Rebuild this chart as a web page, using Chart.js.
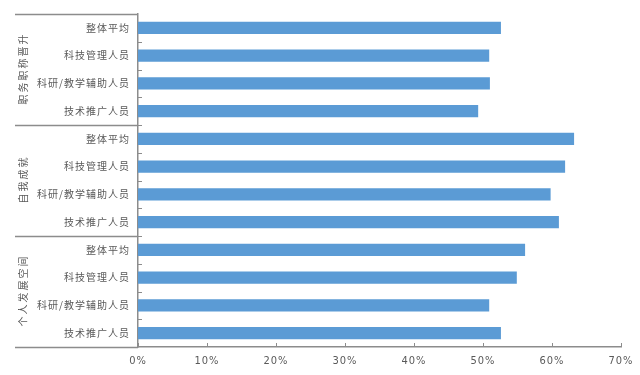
<!DOCTYPE html>
<html><head><meta charset="utf-8">
<script src="https://cdn.jsdelivr.net/npm/chart.js@4/dist/chart.umd.min.js"></script>
<style>html,body{margin:0;padding:0;background:#fff}#wrap{width:640px;height:375px}</style>
</head><body><div id="wrap"><canvas id="c" width="640" height="375"></canvas></div>
<script>
const groups = ['职务职称晋升', '自我成就', '个人发展空间'];
const roles = ['整体平均', '科技管理人员', '科研/教学辅助人员', '技术推广人员'];
const promotion = [52.6, 50.9, 51.0, 49.3];
const achievement = [63.2, 61.9, 59.8, 61.0];
const development = [56.1, 54.9, 50.9, 52.6];
const xTickValues = [0, 10, 20, 30, 40, 50, 60, 70];

const categories = [].concat(roles, roles, roles);
const values = [].concat(promotion, achievement, development);

const LINE = '#8c8c8c';
const TEXT = '#595959';
const FONT = "'Noto Sans CJK SC', 'Noto Sans', sans-serif";

const decor = {
  id: 'decor',
  beforeDraw(chart) { chart.ctx.letterSpacing = '1px'; },
  afterDraw(chart) {
    const ctx = chart.ctx;
    const y = chart.scales.y, x = chart.scales.x;
    const ca = chart.chartArea;
    const n = categories.length;
    const boundary = i => i === 0 ? ca.top : (i === n ? ca.bottom : (y.getPixelForValue(i - 1) + y.getPixelForValue(i)) / 2);
    ctx.save();
    ctx.strokeStyle = LINE;
    ctx.lineWidth = 1;
    for (let i = 1; i < n; i++) {
      const py = Math.round(boundary(i)) + 0.5;
      ctx.beginPath(); ctx.moveTo(ca.left, py); ctx.lineTo(ca.left + 4, py); ctx.stroke();
    }
    xTickValues.forEach(v => {
      const px = Math.round(x.getPixelForValue(v)) + 0.5;
      ctx.beginPath(); ctx.moveTo(px, ca.bottom); ctx.lineTo(px, ca.bottom - 4); ctx.stroke();
    });
    ctx.lineWidth = 1.5;
    for (let g = 0; g <= groups.length; g++) {
      const py = Math.round(boundary(g * roles.length)) + 0.5;
      ctx.beginPath(); ctx.moveTo(15, py); ctx.lineTo(ca.left, py); ctx.stroke();
    }
    ctx.fillStyle = TEXT;
    ctx.font = '10px ' + FONT;
    ctx.letterSpacing = '2px';
    ctx.textAlign = 'center';
    ctx.textBaseline = 'middle';
    groups.forEach((g, gi) => {
      const cy = (boundary(gi * roles.length) + boundary((gi + 1) * roles.length)) / 2;
      ctx.save();
      ctx.translate(23, cy);
      ctx.rotate(-Math.PI / 2);
      ctx.fillText(g, 1, 0);
      ctx.restore();
    });
    ctx.restore();
  }
};

new Chart(document.getElementById('c'), {
  type: 'bar',
  data: {
    labels: categories,
    datasets: [{
      data: values,
      backgroundColor: '#5B9BD5',
      borderWidth: 0,
      barPercentage: 0.45,
      categoryPercentage: 1.0
    }]
  },
  options: {
    indexAxis: 'y',
    responsive: false,
    animation: false,
    devicePixelRatio: 1,
    layout: { padding: { top: 10, right: 15, left: 0, bottom: 0 } },
    plugins: { legend: { display: false }, tooltip: { enabled: false } },
    scales: {
      x: {
        min: 0, max: 70,
        afterBuildTicks: s => { s.ticks = xTickValues.map(v => ({ value: v })); },
        afterFit: s => { s.height = 28; },
        grid: { display: false, drawTicks: false },
        border: { display: true, color: LINE, width: 1.5 },
        ticks: {
          padding: 8,
          color: TEXT,
          font: { family: "'Liberation Sans Narrow', 'DejaVu Sans Condensed', sans-serif", size: 11 },
          callback: v => v + '%'
        }
      },
      y: {
        afterFit: s => { s.width = 138; },
        grid: { display: false, drawTicks: false },
        border: { display: true, color: LINE, width: 1.5 },
        ticks: {
          padding: 8,
          color: TEXT,
          font: { family: FONT, size: 10 },
          autoSkip: false
        }
      }
    }
  },
  plugins: [decor]
});
</script>
</body></html>
